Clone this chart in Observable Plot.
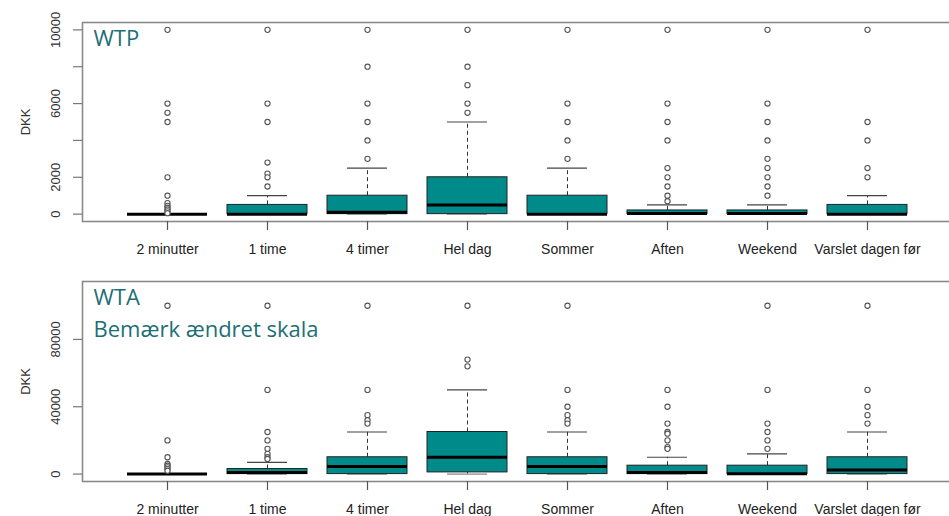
<!DOCTYPE html>
<html>
<head>
<meta charset="utf-8">
<script src="https://cdn.jsdelivr.net/npm/d3@7"></script>
<script src="https://cdn.jsdelivr.net/npm/@observablehq/plot@0.6"></script>
<style>
  html, body { margin: 0; padding: 0; background: #fff; overflow: hidden; }
  #chart svg { display: block; max-width: none !important; }
</style>
</head>
<body>
<div id="chart"></div>
<script>
// Scenarios (x categories)
const categories = ["2 minutter", "1 time", "4 timer", "Hel dag", "Sommer", "Aften", "Weekend", "Varslet dagen før"];

// WTP – box statistics per scenario (DKK)
const wtpLow    = [0, 0, 0, 0, 0, 0, 0, 0];
const wtpQ1     = [0, 0, 0, 0, 0, 0, 0, 0];
const wtpMedian = [0, 0, 100, 500, 0, 30, 30, 0];
const wtpQ3     = [0, 500, 1000, 2000, 1000, 200, 200, 500];
const wtpHigh   = [0, 1000, 2500, 5000, 2500, 500, 500, 1000];
const wtpOutliers = [
  [10000, 6000, 5500, 5000, 2000, 1000, 600, 450, 350, 250, 150, 50],
  [10000, 6000, 5000, 2800, 2200, 2000, 1500],
  [10000, 8000, 6000, 5000, 4000, 3000],
  [10000, 8000, 7000, 6000, 5500],
  [10000, 6000, 5000, 4000, 3000],
  [10000, 6000, 5000, 4000, 2500, 2000, 1500, 1000, 700],
  [10000, 6000, 5000, 4000, 3000, 2500, 2000, 1500, 1000],
  [10000, 5000, 4000, 2500, 2000]
];
const wtpTicks = [0, 2000, 4000, 6000, 8000, 10000];
const wtpTickLabels = [0, 2000, 6000, 10000];

// WTA – box statistics per scenario (DKK)
const wtaLow    = [0, 0, 0, 0, 0, 0, 0, 0];
const wtaQ1     = [0, 0, 0, 1000, 0, 0, 0, 0];
const wtaMedian = [0, 1000, 4500, 10000, 4500, 1000, 200, 2500];
const wtaQ3     = [0, 3000, 10000, 25000, 10000, 5000, 5000, 10000];
const wtaHigh   = [0, 7000, 25000, 50000, 25000, 10000, 12000, 25000];
const wtaOutliers = [
  [100000, 20000, 10000, 6000, 5000, 4000, 3000, 2000],
  [100000, 50000, 25000, 20000, 15000, 12000, 10000, 9000],
  [100000, 50000, 35000, 32000, 30000],
  [100000, 68000, 64000],
  [100000, 50000, 40000, 35000, 32000, 30000],
  [50000, 40000, 30000, 25000, 24000, 20000, 16000, 15000],
  [100000, 50000, 30000, 25000, 20000, 15000],
  [100000, 50000, 40000, 35000, 30000]
];
const wtaTicks = [0, 40000, 80000];
const wtaTickLabels = [0, 40000, 80000];

const TEAL_FILL = "#008b8b";
const TEAL_TEXT = "#1d6f76";
const AXIS_FONT = "'Liberation Sans', Arial, sans-serif";
const TITLE_FONT = "'Open Sans', 'Noto Sans', sans-serif";

function panel({low, q1, median, q3, high, outliers, yDomain, ticks, tickLabels, titles, height, marginTop, marginBottom}) {
  const rows = categories.map((cat, i) => ({cat, low: low[i], q1: q1[i], median: median[i], q3: q3[i], high: high[i]}));
  const outRows = categories.flatMap((cat, i) => outliers[i].map(v => ({cat, v})));
  const titleMarks = titles.map((t, i) =>
    Plot.text([t], {frameAnchor: "top-left", dx: 11, dy: 8 + i * 32, lineAnchor: "top", fontSize: 22, fill: TEAL_TEXT, fontFamily: TITLE_FONT})
  );
  const svg = Plot.plot({
    width: 960,
    height,
    marginLeft: 82,
    marginRight: 8,
    marginTop,
    marginBottom,
    style: {fontFamily: AXIS_FONT, background: "#fff"},
    x: {type: "band", domain: categories, paddingInner: 0.2, paddingOuter: 0.426, align: 0.5, axis: null},
    y: {domain: yDomain, axis: null},
    marks: [
      // whiskers (dashed) and caps
      Plot.ruleX(rows, {x: "cat", y1: "q3", y2: "high", stroke: "#333", strokeWidth: 1, strokeDasharray: "4,3"}),
      Plot.ruleX(rows, {x: "cat", y1: "low", y2: "q1", stroke: "#333", strokeWidth: 1, strokeDasharray: "4,3"}),
      Plot.tickY(rows, {x: "cat", y: "high", stroke: "#444", strokeWidth: 1.2, insetLeft: 20, insetRight: 20}),
      Plot.tickY(rows, {x: "cat", y: "low", stroke: "#888", strokeWidth: 1.2, insetLeft: 20, insetRight: 20}),
      // boxes
      Plot.barY(rows, {x: "cat", y1: "q1", y2: "q3", fill: TEAL_FILL, stroke: "#222", strokeWidth: 1}),
      // medians
      Plot.tickY(rows, {x: "cat", y: "median", stroke: "#000", strokeWidth: 3}),
      // outliers
      Plot.dot(outRows, {x: "cat", y: "v", r: 2.6, stroke: "#555", strokeWidth: 1.1, fill: "#fff"}),
      // frame
      Plot.frame({stroke: "#8a8a8a", strokeWidth: 1.6}),
      // y ticks (left of frame) and rotated labels
      Plot.axisY({ticks, tickSize: 9, tickFormat: () => "", stroke: "#777", strokeWidth: 1.2, label: null}),
      Plot.text(tickLabels, {y: d => d, text: d => String(d), frameAnchor: "left", dx: -27, rotate: -90, textAnchor: "middle", fontSize: 13, fill: "#333"}),
      Plot.text(["DKK"], {frameAnchor: "left", dx: -57, rotate: -90, textAnchor: "middle", fontSize: 13, fill: "#333"}),
      // x axis
      Plot.axisX({tickSize: 9, tickPadding: 14, fontSize: 14, stroke: "#555", strokeWidth: 1.2, color: "#222", label: null}),
      // panel titles
      ...titleMarks
    ]
  });
  svg.style.maxWidth = "none";
  return svg;
}

const chart = document.getElementById("chart");
chart.append(panel({
  low: wtpLow, q1: wtpQ1, median: wtpMedian, q3: wtpQ3, high: wtpHigh, outliers: wtpOutliers,
  yDomain: [-400, 10400], ticks: wtpTicks, tickLabels: wtpTickLabels,
  titles: ["WTP"], height: 259, marginTop: 22, marginBottom: 38
}));
chart.append(panel({
  low: wtaLow, q1: wtaQ1, median: wtaMedian, q3: wtaQ3, high: wtaHigh, outliers: wtaOutliers,
  yDomain: [-4400, 114400], ticks: wtaTicks, tickLabels: wtaTickLabels,
  titles: ["WTA", "Bemærk ændret skala"], height: 257, marginTop: 22, marginBottom: 35
}));
</script>
</body>
</html>
